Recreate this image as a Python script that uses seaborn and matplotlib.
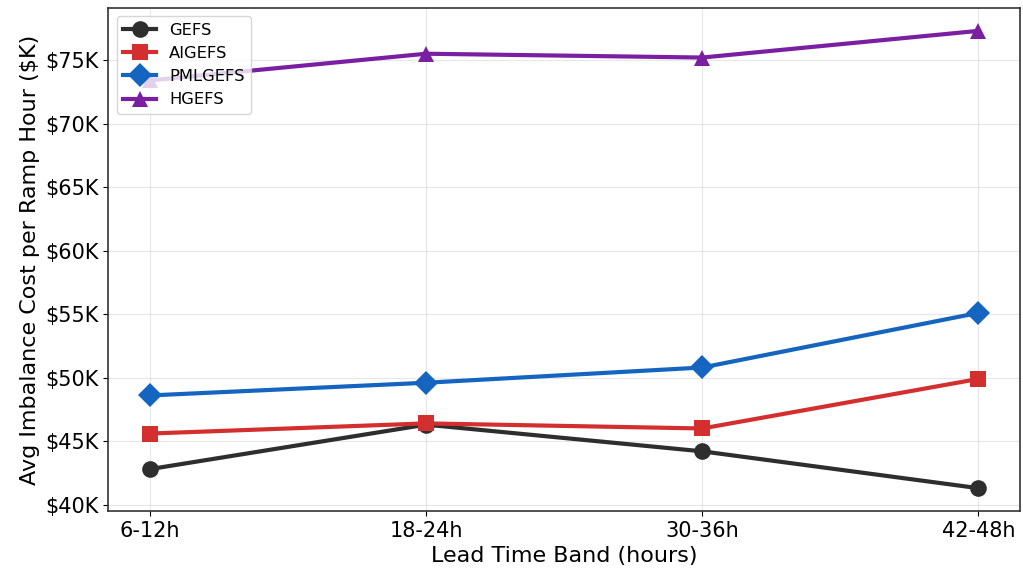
import matplotlib
matplotlib.use("Agg")
import matplotlib.pyplot as plt
import matplotlib.ticker as mticker
import seaborn as sns
import pandas as pd

# -------------------------
# DATA
# -------------------------
lead_bands = ["6-12h", "18-24h", "30-36h", "42-48h"]
gefs = [42800, 46300, 44200, 41300]
aigefs = [45600, 46400, 46000, 49900]
pmlgefs = [48600, 49600, 50800, 55100]
hgefs = [73400, 75500, 75200, 77300]

models = ["GEFS", "AIGEFS", "PMLGEFS", "HGEFS"]
colors = ["#2e2e2e", "#d32f2f", "#1565c0", "#7b1fa2"]
markers = ["o", "s", "D", "^"]

df = pd.concat([
    pd.DataFrame({"band": lead_bands, "cost": vals, "model": name})
    for name, vals in zip(models, [gefs, aigefs, pmlgefs, hgefs])
])

fig, ax = plt.subplots(figsize=(10.23, 5.71), dpi=100)
sns.lineplot(data=df, x="band", y="cost", hue="model", style="model",
             hue_order=models, style_order=models,
             palette=dict(zip(models, colors)),
             markers=dict(zip(models, markers)), dashes=False,
             linewidth=3, markersize=12, markeredgewidth=0, sort=False, ax=ax)

ax.yaxis.set_major_formatter(mticker.FuncFormatter(lambda v, _: f"${v/1000:.0f}K"))
ax.set_xlabel("Lead Time Band (hours)", fontsize=16)
ax.set_ylabel("Avg Imbalance Cost per Ramp Hour ($K)", fontsize=16)
ax.tick_params(labelsize=15)
ax.grid(True, alpha=0.3)
for s in ax.spines.values():
    s.set_color("#333333")
    s.set_linewidth(1.2)

ax.legend(loc="upper left", fontsize=11.8)

fig.subplots_adjust(left=0.106, right=0.997, top=0.986, bottom=0.105)
fig.savefig("out.png", dpi=100)
plt.close()
